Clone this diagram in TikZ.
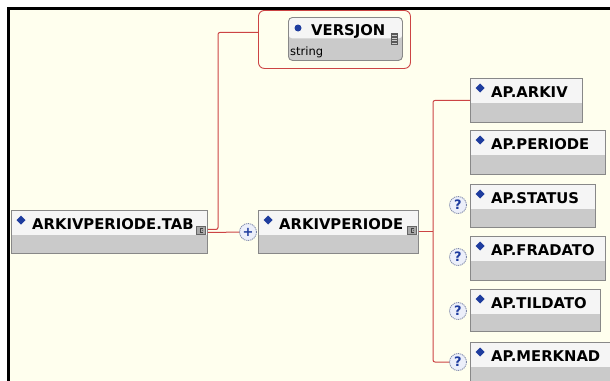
\documentclass[tikz,border=0pt]{standalone}
\usepackage{fontspec}
\setmainfont{DejaVu Sans}
\usetikzlibrary{calc}
\definecolor{bgc}{HTML}{FFFFEE}
\definecolor{hdr}{HTML}{F5F5F5}
\definecolor{bdy}{HTML}{CACACA}
\definecolor{brd}{HTML}{888888}
\definecolor{conc}{HTML}{CC4444}
\definecolor{blu}{HTML}{1E3C9E}
\definecolor{icn}{HTML}{A8A8A8}
\definecolor{qfill}{HTML}{ECEFFA}
\definecolor{qbrd}{HTML}{7C86A8}
\tikzset{
  elem/.style={draw=brd, line width=0.9pt, fill=bdy, anchor=north west, inner sep=0pt,
    path picture={\fill[hdr] (path picture bounding box.north west) rectangle ([yshift=-#1]path picture bounding box.north east);}},
  elem/.default=24.5pt,
  lbl/.style={anchor=base west, inner sep=0pt, font=\fontsize{14.8}{16}\selectfont\bfseries},
  cicon/.style={anchor=south east, draw=black!60, fill=icn, minimum width=9pt, minimum height=8pt, inner sep=0pt, line width=0.5pt},
  qc/.style={circle, draw=qbrd, fill=qfill, minimum size=17pt, inner sep=0pt, text=blu, line width=0.8pt,
    dash pattern=on 1.2pt off 0.8pt, font=\fontsize{13}{13}\selectfont\bfseries},
  conn/.style={draw=conc, line width=1pt, rounded corners=2pt},
}
\newcommand\xelem[6]{%
  \node[elem, minimum width=#4pt, minimum height=#5pt] (#1) at (#2,#3) {};
  \fill[blu] ($(#1.north west)+(10,10)$) +(0,-4.5) -- +(4.5,0) -- +(0,4.5) -- +(-4.5,0) -- cycle;
  \node[lbl] (#1-t) at ($(#1.north west)+(21,19)$) {#6};
}
\newcommand\xicon[1]{%
  \node[cicon] (#1-i) at ($(#1.north east)+(-2,24.5)$) {};
  \draw[line width=0.5pt, black!75] ($(#1-i.center)+(1.8,-2.2)$) -- ++(-3,0) -- ++(0,4.4) -- ++(3,0);
  \fill[black!75] ($(#1-i.center)+(1.5,0)$) circle (0.5pt);
}
\begin{document}
\begin{tikzpicture}[x=1pt, y=-1pt]
\useasboundingbox (0,0) rectangle (610,380);
\fill[white] (-2,-2) rectangle (615,385);
\fill[bgc] (8.5,8.5) rectangle (615,385);
\draw[line width=2.5pt] (8.5,385) -- (8.5,8.5) -- (615,8.5);

% VERSJON group
\node[draw=conc, line width=0.9pt, rounded corners=6pt, minimum width=152pt, minimum height=58pt,
      anchor=north west, inner sep=0pt] (grp) at (258,10) {};
\node[elem=21pt, rounded corners=4pt, minimum width=114pt, minimum height=43pt] (vers) at (288,17) {};
\fill[blu] ($(vers.north west)+(10,11)$) circle (3.5pt);
\node[lbl] (vers-t) at ($(vers.north west)+(23,18)$) {VERSJON};
\node[anchor=base west, inner sep=0pt, font=\fontsize{11.5}{13}\selectfont] (vers-s) at ($(vers.north west)+(2,38)$) {string};
\node[fill=black!65, minimum width=7pt, minimum height=12pt, inner sep=0pt, anchor=north west] (vers-i) at (391,33) {};
\foreach \k in {2.5,5,7.5,10}{
  \draw[white!80!black, line width=0.5pt] ($(vers-i.north west)+(1,\k)$) -- ++(5,0);
}

% elements
\xelem{tab}{11}{210}{196}{43}{ARKIVPERIODE.TAB}
\xicon{tab}
\xelem{ap}{258}{210}{160}{43}{ARKIVPERIODE}
\xicon{ap}
\xelem{arkiv}{470}{78}{112}{44}{AP.ARKIV}
\xelem{periode}{470}{130}{135}{44}{AP.PERIODE}
\xelem{status}{470}{184}{125}{43}{AP.STATUS}
\xelem{fradato}{470}{236}{135}{44}{AP.FRADATO}
\xelem{tildato}{470}{289}{130}{42}{AP.TILDATO}
\xelem{merknad}{470}{342}{150}{44}{AP.MERKNAD}

% connectors
\coordinate (bus1) at (433,100);
\coordinate (bus2) at (433,362);
\draw[conn] ([yshift=2.5pt]tab.east) -| ($(grp.west)+(-40,-7)$) -- ([yshift=7pt]grp.west);
\draw[conn] ([yshift=-0.5pt]tab.east) -- (248,232);
\draw[conn] (ap.east) -- (ap.east -| bus1);
\draw[conn] (arkiv.west) -| (bus2) -- (458,362);

% compositor and occurrence circles
\node[qc] (plus) at (248,232) {+};
\node[qc] (q3) at (458,205) {?};
\node[qc] (q4) at (458,257) {?};
\node[qc] (q5) at (458,311) {?};
\node[qc] (q6) at (458,362) {?};
\end{tikzpicture}
\end{document}
